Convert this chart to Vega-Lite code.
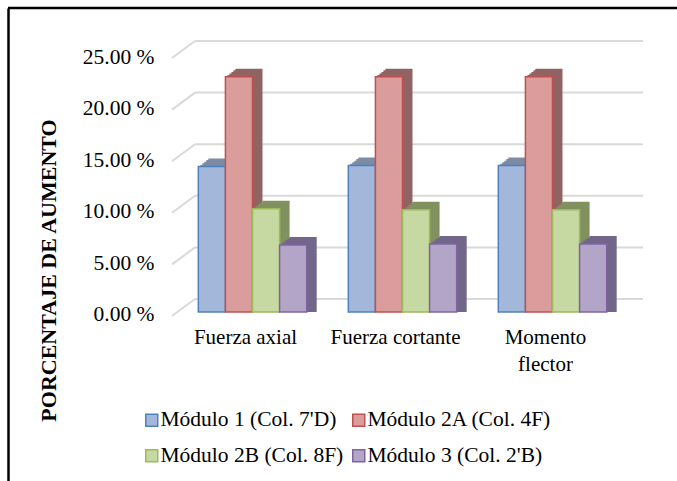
{
  "$schema": "https://vega.github.io/schema/vega-lite/v6.json",
  "width": 669,
  "height": 473,
  "autosize": {"type": "none"},
  "padding": {"left": 8, "top": 8, "right": 0, "bottom": 0},
  "background": "white",
  "config": {"view": {"stroke": null}, "font": "Liberation Serif, Times New Roman, serif"},
  "datasets": {
    "bars": [
      {"cat": "Fuerza axial", "serie": "Módulo 1 (Col. 7'D)", "value": 14.1},
      {"cat": "Fuerza axial", "serie": "Módulo 2A (Col. 4F)", "value": 22.8},
      {"cat": "Fuerza axial", "serie": "Módulo 2B (Col. 8F)", "value": 10.0},
      {"cat": "Fuerza axial", "serie": "Módulo 3 (Col. 2'B)", "value": 6.5},
      {"cat": "Fuerza cortante", "serie": "Módulo 1 (Col. 7'D)", "value": 14.2},
      {"cat": "Fuerza cortante", "serie": "Módulo 2A (Col. 4F)", "value": 22.8},
      {"cat": "Fuerza cortante", "serie": "Módulo 2B (Col. 8F)", "value": 9.9},
      {"cat": "Fuerza cortante", "serie": "Módulo 3 (Col. 2'B)", "value": 6.6},
      {"cat": "Momento flector", "serie": "Módulo 1 (Col. 7'D)", "value": 14.2},
      {"cat": "Momento flector", "serie": "Módulo 2A (Col. 4F)", "value": 22.8},
      {"cat": "Momento flector", "serie": "Módulo 2B (Col. 8F)", "value": 9.9},
      {"cat": "Momento flector", "serie": "Módulo 3 (Col. 2'B)", "value": 6.6}
    ],
    "grid": [{"v": 0}, {"v": 5}, {"v": 10}, {"v": 15}, {"v": 20}, {"v": 25}],
    "frame": [{"top": 29.46}]
  },
  "resolve": {"scale": {"xOffset": "independent"}},
  "layer": [
    {
      "data": {"name": "grid"},
      "mark": {"type": "rule", "color": "#d9d9d9", "strokeWidth": 2, "xOffset": 17.5, "x2Offset": 15.5, "yOffset": -13},
      "encoding": {
        "x": {"datum": "Fuerza axial", "type": "nominal", "bandPosition": 0, "scale": {"domain": ["Fuerza axial", "Fuerza cortante", "Momento flector"], "paddingInner": 0, "paddingOuter": 0.73, "align": 0.774}},
        "x2": {"datum": "Momento flector", "bandPosition": 1},
        "y": {"field": "v", "type": "quantitative", "scale": {"domain": [-16.38, 29.46], "nice": false, "zero": false}}
      }
    },
    {
      "data": {"name": "grid"},
      "mark": {"type": "rule", "color": "#d9d9d9", "strokeWidth": 2, "xOffset": -5.5, "x2Offset": 17.5, "yOffset": 4, "y2Offset": -13},
      "encoding": {
        "x": {"datum": "Fuerza axial", "type": "nominal", "bandPosition": 0},
        "x2": {"datum": "Fuerza axial", "bandPosition": 0},
        "y": {"field": "v", "type": "quantitative"},
        "y2": {"field": "v"}
      }
    },
    {
      "data": {"name": "frame"},
      "mark": {"type": "rule", "color": "#000", "strokeWidth": 2.5},
      "encoding": {
        "y": {"field": "top", "type": "quantitative"}
      }
    },
    {
      "data": {"name": "bars"},
      "mark": {"type": "bar", "yOffset": -8},
      "encoding": {
        "x": {"field": "cat", "type": "nominal"},
        "xOffset": {"field": "serie", "type": "nominal", "scale": {"domain": ["Módulo 1 (Col. 7'D)", "Módulo 2A (Col. 4F)", "Módulo 2B (Col. 8F)", "Módulo 3 (Col. 2'B)"], "paddingInner": 0, "paddingOuter": 0.768, "align": 0.740}},
        "y": {"field": "value", "type": "quantitative"},
        "y2": {"datum": 0},
        "color": {"field": "serie", "type": "nominal", "scale": {"range": ["#7d8ba5", "#916363", "#80915f", "#72668a"]}, "legend": null}
      }
    },
    {
      "data": {"name": "bars"},
      "mark": {"type": "bar", "yOffset": -6.4},
      "encoding": {
        "x": {"field": "cat", "type": "nominal"},
        "xOffset": {"field": "serie", "type": "nominal", "scale": {"domain": ["Módulo 1 (Col. 7'D)", "Módulo 2A (Col. 4F)", "Módulo 2B (Col. 8F)", "Módulo 3 (Col. 2'B)"], "paddingInner": 0, "paddingOuter": 0.768, "align": 0.692}},
        "y": {"field": "value", "type": "quantitative"},
        "y2": {"datum": 0},
        "color": {"field": "serie", "type": "nominal", "legend": null}
      }
    },
    {
      "data": {"name": "bars"},
      "mark": {"type": "bar", "yOffset": -4.8},
      "encoding": {
        "x": {"field": "cat", "type": "nominal"},
        "xOffset": {"field": "serie", "type": "nominal", "scale": {"domain": ["Módulo 1 (Col. 7'D)", "Módulo 2A (Col. 4F)", "Módulo 2B (Col. 8F)", "Módulo 3 (Col. 2'B)"], "paddingInner": 0, "paddingOuter": 0.768, "align": 0.644}},
        "y": {"field": "value", "type": "quantitative"},
        "y2": {"datum": 0},
        "color": {"field": "serie", "type": "nominal", "legend": null}
      }
    },
    {
      "data": {"name": "bars"},
      "mark": {"type": "bar", "yOffset": -3.2},
      "encoding": {
        "x": {"field": "cat", "type": "nominal"},
        "xOffset": {"field": "serie", "type": "nominal", "scale": {"domain": ["Módulo 1 (Col. 7'D)", "Módulo 2A (Col. 4F)", "Módulo 2B (Col. 8F)", "Módulo 3 (Col. 2'B)"], "paddingInner": 0, "paddingOuter": 0.768, "align": 0.596}},
        "y": {"field": "value", "type": "quantitative"},
        "y2": {"datum": 0},
        "color": {"field": "serie", "type": "nominal", "legend": null}
      }
    },
    {
      "data": {"name": "bars"},
      "mark": {"type": "bar", "yOffset": -1.6},
      "encoding": {
        "x": {"field": "cat", "type": "nominal"},
        "xOffset": {"field": "serie", "type": "nominal", "scale": {"domain": ["Módulo 1 (Col. 7'D)", "Módulo 2A (Col. 4F)", "Módulo 2B (Col. 8F)", "Módulo 3 (Col. 2'B)"], "paddingInner": 0, "paddingOuter": 0.768, "align": 0.548}},
        "y": {"field": "value", "type": "quantitative"},
        "y2": {"datum": 0},
        "color": {"field": "serie", "type": "nominal", "legend": null}
      }
    },
    {
      "data": {"name": "bars"},
      "mark": {"type": "bar", "strokeWidth": 1.5},
      "encoding": {
        "x": {"field": "cat", "type": "nominal", "axis": {"orient": "bottom", "offset": -165, "bandPosition": 0.5, "domain": false, "ticks": false, "grid": false, "labelPadding": 21, "labelOffset": -7, "labelAngle": 0, "labelAlign": "center", "labelFontSize": 21, "labelFont": "Liberation Serif", "labelColor": "#000", "labelLineHeight": 27, "labelExpr": "datum.value == 'Momento flector' ? ['Momento', 'flector'] : datum.value", "title": null}},
        "xOffset": {"field": "serie", "type": "nominal", "scale": {"domain": ["Módulo 1 (Col. 7'D)", "Módulo 2A (Col. 4F)", "Módulo 2B (Col. 8F)", "Módulo 3 (Col. 2'B)"], "paddingInner": 0, "paddingOuter": 0.768, "align": 0.5}},
        "y": {"field": "value", "type": "quantitative", "axis": {"values": [0, 5, 10, 15, 20, 25], "labelExpr": "format(datum.value, '.2f') + ' %'", "domain": true, "domainColor": "#000", "domainWidth": 2.5, "ticks": false, "tickSize": 0, "grid": false, "offset": 0, "labelPadding": -146, "labelAlign": "right", "labelOffset": 3, "labelFontSize": 21.5, "labelFont": "Liberation Serif", "labelColor": "#000", "title": "PORCENTAJE DE AUMENTO", "titleFont": "Liberation Serif", "titleFontSize": 22, "titleFontWeight": "bold", "titleColor": "#000", "titleX": 40, "titleY": 262, "titleBaseline": "middle", "titleAngle": 270}},
        "y2": {"datum": 0},
        "fill": {"field": "serie", "type": "nominal", "scale": {"domain": ["Módulo 1 (Col. 7'D)", "Módulo 2A (Col. 4F)", "Módulo 2B (Col. 8F)", "Módulo 3 (Col. 2'B)"], "range": ["#a3b7db", "#db9d9c", "#c6d9a3", "#b2a5c8"]}, "legend": {"orient": "none", "legendX": 133, "legendY": 401, "direction": "horizontal", "columns": 2, "title": null, "symbolType": "square", "symbolSize": 144, "symbolStrokeWidth": 1.5, "labelFontSize": 21.5, "labelFont": "Liberation Serif", "labelColor": "#000", "rowPadding": 13, "columnPadding": 4, "labelOffset": -2, "labelLimit": 300}},
        "stroke": {"field": "serie", "type": "nominal", "scale": {"domain": ["Módulo 1 (Col. 7'D)", "Módulo 2A (Col. 4F)", "Módulo 2B (Col. 8F)", "Módulo 3 (Col. 2'B)"], "range": ["#4f81bd", "#c0504d", "#9bbb59", "#8064a2"]}, "legend": {"orient": "none", "legendX": 133, "legendY": 401, "direction": "horizontal", "columns": 2, "title": null, "symbolType": "square", "symbolSize": 144, "symbolStrokeWidth": 1.5, "labelFontSize": 21.5, "labelFont": "Liberation Serif", "labelColor": "#000", "rowPadding": 13, "columnPadding": 4, "labelOffset": -2, "labelLimit": 300}}
      }
    }
  ]
}
